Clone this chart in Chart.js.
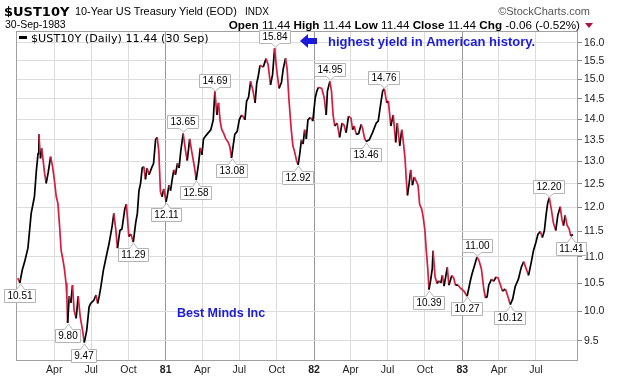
<!DOCTYPE html>
<html>
<head>
<meta charset="utf-8">
<script src="https://cdn.jsdelivr.net/npm/chart.js@4.4.1/dist/chart.umd.min.js"></script>
<style>
  body { margin: 0; background: #fff; }
  #wrap { position: relative; width: 617px; height: 378px; overflow: hidden;
          font-family: "Liberation Sans", Arial, sans-serif; color: #000; }
  #chart { position: absolute; left: 0; top: 0; }
  .t { position: absolute; white-space: nowrap; line-height: 1; }
  .tri { position: absolute; width: 0; height: 0; border-left: 4px solid transparent;
         border-right: 4px solid transparent; border-top: 5px solid #b0103a; }
</style>
</head>
<body>
<div id="wrap">
  <canvas id="chart" width="617" height="378"></canvas>
  <div class="t" style="left:4px;top:4px;font:bold 13px 'DejaVu Sans'">$UST10Y</div>
  <div class="t" style="left:75px;top:6px;font-size:10.9px">10-Year US Treasury Yield (EOD)</div>
  <div class="t" style="left:245px;top:7px;font-size:10px">INDX</div>
  <div class="t" style="right:27px;top:6px;font-size:11px;color:#555">©StockCharts.com</div>
  <div class="t" style="left:5px;top:19px;font-size:10.5px">30-Sep-1983</div>
  <div class="t" style="right:37px;top:19px;font-size:11.7px"><b>Open</b> 11.44 <b>High</b> 11.44 <b>Low</b> 11.44 <b>Close</b> 11.44 <b>Chg</b> -0.06 (-0.52%)</div>
  <div class="tri" style="left:585px;top:23px"></div>
</div>
<script>
const dates1980 = ["1980-01-02","1980-01-07","1980-01-13","1980-01-19","1980-01-27","1980-02-04","1980-02-12","1980-02-17","1980-02-21","1980-02-23","1980-02-27","1980-03-01","1980-03-04","1980-03-08","1980-03-12","1980-03-17","1980-03-23","1980-03-28","1980-04-01","1980-04-06","1980-04-10","1980-04-14","1980-04-18","1980-04-22","1980-04-26","1980-04-30","1980-05-02","1980-05-04","1980-05-08","1980-05-12","1980-05-16","1980-05-20","1980-05-25","1980-05-30","1980-06-04","1980-06-10","1980-06-14","1980-06-20","1980-06-26","1980-06-30","1980-07-08","1980-07-13","1980-07-17","1980-07-21","1980-07-25","1980-07-31","1980-08-06","1980-08-14","1980-08-22","1980-08-26","1980-08-31","1980-09-04","1980-09-10","1980-09-15","1980-09-22","1980-09-26","1980-10-02","1980-10-07","1980-10-13","1980-10-19","1980-10-23","1980-10-27","1980-10-31","1980-11-04","1980-11-08","1980-11-12","1980-11-16","1980-11-21","1980-11-28","1980-12-02","1980-12-07","1980-12-11","1980-12-15","1980-12-19","1980-12-23","1980-12-27"];
const yields1980 = [10.60,10.51,10.75,10.91,11.17,11.87,12.22,12.81,13.18,13.63,13.07,13.30,13.07,12.74,12.51,12.75,13.11,12.87,12.60,12.22,12.08,11.62,11.12,10.96,10.77,10.51,10.27,9.80,10.27,10.15,10.47,10.02,9.88,10.27,9.91,9.67,9.47,9.67,10.08,10.14,10.20,10.29,10.14,10.27,10.44,10.74,10.96,11.25,11.62,11.87,11.52,11.17,11.52,11.55,11.96,12.06,11.40,11.45,11.29,11.68,11.87,12.35,12.51,12.85,12.88,12.60,12.85,12.70,12.87,12.95,13.50,13.56,13.23,12.33,12.22,12.39];

const dates1981 = ["1981-01-02","1981-01-05","1981-01-09","1981-01-13","1981-01-17","1981-01-21","1981-01-25","1981-01-30","1981-02-03","1981-02-07","1981-02-13","1981-02-19","1981-02-23","1981-03-01","1981-03-06","1981-03-10","1981-03-14","1981-03-17","1981-03-23","1981-03-27","1981-03-31","1981-04-04","1981-04-10","1981-04-16","1981-04-22","1981-04-28","1981-05-02","1981-05-07","1981-05-11","1981-05-15","1981-05-19","1981-05-23","1981-05-29","1981-06-04","1981-06-08","1981-06-12","1981-06-16","1981-06-20","1981-06-26","1981-07-01","1981-07-07","1981-07-11","1981-07-15","1981-07-19","1981-07-24","1981-07-29","1981-08-04","1981-08-09","1981-08-13","1981-08-17","1981-08-21","1981-08-29","1981-09-05","1981-09-10","1981-09-16","1981-09-21","1981-09-26","1981-10-01","1981-10-07","1981-10-13","1981-10-17","1981-10-23","1981-10-27","1981-10-31","1981-11-06","1981-11-10","1981-11-14","1981-11-19","1981-11-23","1981-11-27","1981-12-01","1981-12-05","1981-12-09","1981-12-13","1981-12-17","1981-12-23","1981-12-29"];
const yields1981 = [12.11,12.25,12.47,12.35,12.60,12.81,12.70,12.96,12.85,13.23,13.65,13.23,13.02,13.52,13.23,13.02,12.80,12.58,12.96,13.31,13.15,13.52,13.60,13.67,13.74,13.98,14.69,14.10,14.40,13.95,13.74,13.67,13.52,13.44,13.33,13.08,13.36,13.63,13.70,13.98,14.10,14.05,13.98,14.44,14.55,14.95,14.70,14.40,14.90,15.10,15.38,15.33,15.56,15.40,14.86,15.13,15.84,15.27,14.77,14.93,15.27,15.57,15.27,14.53,13.74,13.36,13.23,13.02,12.92,13.18,13.50,13.40,13.74,13.52,13.98,14.04,13.95];

const dates1982 = ["1982-01-04","1982-01-08","1982-01-12","1982-01-20","1982-01-26","1982-01-31","1982-02-03","1982-02-09","1982-02-13","1982-02-17","1982-02-21","1982-02-27","1982-03-05","1982-03-11","1982-03-16","1982-03-21","1982-03-27","1982-04-02","1982-04-06","1982-04-10","1982-04-15","1982-04-21","1982-04-27","1982-05-01","1982-05-05","1982-05-09","1982-05-17","1982-05-25","1982-06-03","1982-06-08","1982-06-15","1982-06-19","1982-06-23","1982-06-29","1982-07-03","1982-07-09","1982-07-15","1982-07-21","1982-07-25","1982-07-31","1982-08-05","1982-08-08","1982-08-13","1982-08-16","1982-08-19","1982-08-23","1982-08-27","1982-08-31","1982-09-05","1982-09-10","1982-09-14","1982-09-18","1982-09-23","1982-09-26","1982-10-01","1982-10-04","1982-10-08","1982-10-11","1982-10-15","1982-10-19","1982-10-21","1982-10-26","1982-10-31","1982-11-04","1982-11-09","1982-11-13","1982-11-17","1982-11-25","1982-11-29","1982-12-06","1982-12-11","1982-12-15","1982-12-22","1982-12-28"];
const yields1982 = [14.53,14.70,14.80,14.77,14.53,14.10,14.70,14.95,14.70,14.10,13.83,13.90,13.56,13.90,13.85,13.67,14.07,14.02,13.74,13.83,13.63,13.65,13.87,13.75,13.55,13.46,13.50,13.67,13.90,13.95,14.44,14.70,14.76,14.40,14.45,13.83,14.10,13.44,13.90,13.36,13.74,13.52,13.07,12.60,12.25,12.50,12.81,12.47,12.65,12.55,12.47,12.06,11.96,11.83,11.52,11.15,10.77,10.39,10.56,10.77,11.12,10.62,10.50,10.55,10.51,10.65,10.45,10.80,10.47,10.65,10.60,10.47,10.47,10.41];

const dates1983 = ["1983-01-05","1983-01-13","1983-01-21","1983-01-25","1983-02-01","1983-02-06","1983-02-11","1983-02-17","1983-02-23","1983-02-27","1983-03-03","1983-03-07","1983-03-14","1983-03-19","1983-03-25","1983-03-30","1983-04-05","1983-04-10","1983-04-17","1983-04-23","1983-04-29","1983-05-05","1983-05-11","1983-05-19","1983-05-26","1983-06-01","1983-06-06","1983-06-13","1983-06-20","1983-06-25","1983-07-01","1983-07-06","1983-07-12","1983-07-17","1983-07-22","1983-07-26","1983-07-30","1983-08-03","1983-08-08","1983-08-13","1983-08-19","1983-08-24","1983-08-30","1983-09-03","1983-09-07","1983-09-11","1983-09-16","1983-09-21","1983-09-25","1983-09-30"];
const yields1983 = [10.36,10.27,10.56,10.68,10.86,11.00,10.93,10.77,10.39,10.24,10.26,10.47,10.58,10.54,10.62,10.60,10.47,10.36,10.40,10.27,10.12,10.22,10.44,10.58,10.80,10.91,10.80,10.65,10.91,11.12,11.28,11.44,11.50,11.38,11.52,11.83,12.08,12.20,11.96,11.68,11.52,11.83,12.01,11.75,11.62,11.83,11.62,11.55,11.41,11.44];

// labelled highs / lows
const markDates = ["1980-01-07","1980-05-04","1980-06-14","1980-10-13","1981-01-02","1981-02-13","1981-03-17","1981-05-02","1981-06-12","1981-09-26","1981-11-23","1982-02-09","1982-05-09","1982-06-23","1982-10-11","1983-01-13","1983-02-06","1983-04-29","1983-08-03","1983-09-25"];
const markSides = ["down","down","down","down","down","up","down","up","down","up","down","up","down","up","down","down","up","down","up","down"];

const tickDates = ["1980-04-01","1980-07-01","1980-10-01","1981-01-01","1981-04-01","1981-07-01","1981-10-01","1982-01-01","1982-04-01","1982-07-01","1982-10-01","1983-01-01","1983-04-01","1983-07-01"];
const tickLabels = ["Apr","Jul","Oct","81","Apr","Jul","Oct","82","Apr","Jul","Oct","83","Apr","Jul"];
const yTicks = [9.5,10.0,10.5,11.0,11.5,12.0,12.5,13.0,13.5,14.0,14.5,15.0,15.5,16.0];

const dates = [...dates1980, ...dates1981, ...dates1982, ...dates1983];
const yields = [...yields1980, ...yields1981, ...yields1982, ...yields1983];

const RED = "#d81b3f";
const BLUE = "#1c1cd8";

function toYear(s) {
  const d = new Date(s + "T00:00:00Z");
  const y = d.getUTCFullYear();
  const start = Date.UTC(y, 0, 1);
  return y + (d - start) / (Date.UTC(y + 1, 0, 1) - start);
}

const points = dates.map((d, i) => ({ x: toYear(d), y: yields[i] }));

const frame = {
  id: "frame",
  beforeDatasetsDraw(chart) {
    const { ctx, chartArea: a } = chart;
    ctx.save();
    ctx.strokeStyle = "#a0a0a0";
    ctx.lineWidth = 1;
    ctx.strokeRect(a.left + 0.5, a.top + 0.5, a.width - 1, a.height - 1);
    ctx.restore();
  },
};

const marks = {
  id: "marks",
  afterDatasetsDraw(chart) {
    const { ctx } = chart;
    const xs = chart.scales.x, ys = chart.scales.y;
    ctx.save();
    ctx.font = '10px "Liberation Sans", Arial, sans-serif';
    ctx.lineWidth = 1;
    markDates.forEach((d, i) => {
      const v = yields[dates.indexOf(d)];
      const px = Math.round(xs.getPixelForValue(toYear(d)));
      const py = Math.round(ys.getPixelForValue(v));
      const txt = v.toFixed(2);
      const w = Math.round(ctx.measureText(txt).width) + 6, h = 13;
      const up = markSides[i] === "up";
      const bx = px - Math.round(w / 2) + 0.5;
      const by = (up ? py - 5 - h : py + 6) + 0.5;
      ctx.beginPath();
      if (up) {
        ctx.moveTo(bx, by);
        ctx.lineTo(bx + w, by);
        ctx.lineTo(bx + w, by + h);
        ctx.lineTo(px + 4.5, by + h);
        ctx.lineTo(px + 0.5, py - 1);
        ctx.lineTo(px - 3.5, by + h);
        ctx.lineTo(bx, by + h);
      } else {
        ctx.moveTo(bx, by);
        ctx.lineTo(px - 3.5, by);
        ctx.lineTo(px + 0.5, py + 1);
        ctx.lineTo(px + 4.5, by);
        ctx.lineTo(bx + w, by);
        ctx.lineTo(bx + w, by + h);
        ctx.lineTo(bx, by + h);
      }
      ctx.closePath();
      ctx.fillStyle = "#fff";
      ctx.fill();
      ctx.strokeStyle = "#b4b4b4";
      ctx.stroke();
      ctx.fillStyle = "#000";
      ctx.textAlign = "center";
      ctx.textBaseline = "middle";
      ctx.fillText(txt, bx + w / 2, by + h / 2 + 0.5);
    });
    ctx.restore();
  },
  afterDraw(chart) {
    const { ctx } = chart;
    ctx.save();
    // legend
    ctx.fillStyle = "#000";
    ctx.fillRect(19, 36, 8, 3);
    ctx.font = '11.2px "DejaVu Sans", sans-serif';
    ctx.textBaseline = "alphabetic";
    ctx.fillText("$UST10Y (Daily) 11.44 (30 Sep)", 31, 42);
    // arrow
    ctx.fillStyle = BLUE;
    ctx.beginPath();
    ctx.moveTo(300, 41);
    ctx.lineTo(308, 34);
    ctx.lineTo(308, 38);
    ctx.lineTo(317, 38);
    ctx.lineTo(317, 44);
    ctx.lineTo(308, 44);
    ctx.lineTo(308, 48);
    ctx.closePath();
    ctx.fill();
    ctx.font = 'bold 13px "Liberation Sans", Arial, sans-serif';
    ctx.fillText("highest yield in American history.", 328, 46);
    ctx.font = 'bold 12.5px "Liberation Sans", Arial, sans-serif';
    ctx.fillText("Best Minds Inc", 177, 317);
    ctx.restore();
  },
};

new Chart(document.getElementById("chart"), {
  type: "line",
  data: {
    datasets: [{
      data: points,
      borderWidth: 1.7,
      pointRadius: 0,
      tension: 0,
      borderColor: "#000",
      segment: {
        borderColor: c => (c.p1.parsed.y < c.p0.parsed.y ? RED : "#000"),
      },
    }],
  },
  options: {
    responsive: false,
    animation: false,
    layout: { padding: { left: 16, top: 31, right: 0, bottom: 0 } },
    plugins: { legend: { display: false }, tooltip: { enabled: false } },
    scales: {
      x: {
        type: "linear",
        min: 1979.9906,
        max: 1983.78,
        afterBuildTicks: s => { s.ticks = tickDates.map(d => ({ value: toYear(d) })); },
        afterFit: s => { s.height = 17; },
        border: { display: false },
        grid: {
          drawTicks: false,
          color: c => (tickLabels[c.index] && tickLabels[c.index].length === 2 ? "#9a9a9a" : "#dcdcdc"),
        },
        ticks: {
          autoSkip: false,
          maxRotation: 0,
          padding: 3,
          color: "#222",
          font: c => ({
            family: '"Liberation Sans", Arial, sans-serif',
            size: 10.5,
            weight: tickLabels[c.index] && tickLabels[c.index].length === 2 ? "bold" : "normal",
          }),
          callback: (v, i) => tickLabels[i],
        },
      },
      y: {
        type: "logarithmic",
        position: "right",
        min: 9.169,
        max: 16.33,
        afterBuildTicks: s => { s.ticks = yTicks.map(v => ({ value: v })); },
        afterFit: s => { s.width = 39; },
        border: { display: false },
        grid: { color: "#dcdcdc", tickLength: 4, tickColor: "#888" },
        ticks: {
          padding: 2,
          color: "#222",
          font: { family: '"Liberation Sans", Arial, sans-serif', size: 10.5 },
          callback: v => Number(v).toFixed(1),
        },
      },
    },
  },
  plugins: [frame, marks],
});
</script>
</body>
</html>
